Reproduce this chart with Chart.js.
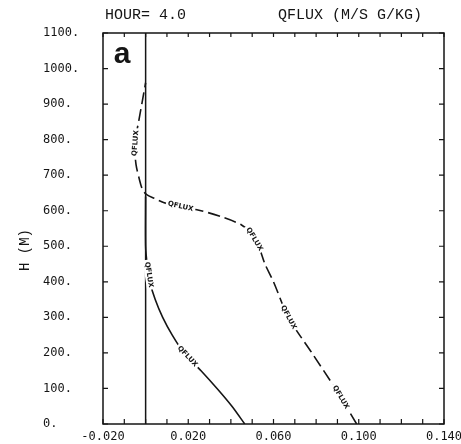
<!DOCTYPE html>
<html>
<head>
<meta charset="utf-8">
<script src="https://cdn.jsdelivr.net/npm/chart.js@4"></script>
<style>
  html, body { margin: 0; padding: 0; background: #fff; }
  #wrap { width: 461px; height: 444px; }
</style>
</head>
<body>
<div id="wrap"><canvas id="qflux"></canvas></div>
<script>
// heights (m) and flux values
const solidHeights = [0, 50, 100, 150, 200, 250, 300, 350, 400, 450, 500, 640];
const solidFlux = [0.0465, 0.0405, 0.0335, 0.026, 0.018, 0.0125, 0.008, 0.0045, 0.002, 0.0007, 0, 0];

const dashedHeights = [0, 100, 200, 300, 400, 450, 500, 540, 560, 580, 600, 620, 635, 645, 660, 690, 730, 770, 810, 860, 910, 960];
const dashedFlux = [0.099, 0.089, 0.078, 0.067, 0.060, 0.056, 0.053, 0.049, 0.045, 0.037, 0.026, 0.010, 0.004, 0.0005, -0.0015, -0.003, -0.0045, -0.005, -0.0045, -0.003, -0.0015, 0];

const zeroHeights = [0, 1100];
const zeroFlux = [0, 0];

// heights where the "QFLUX" contour label sits on each curve
const solidLabelHeights = [190, 420];
const dashedLabelHeights = [75, 300, 520, 612, 790];

const xLabelled = [-0.02, 0.02, 0.06, 0.10, 0.14];
const yTicks = [0, 100, 200, 300, 400, 500, 600, 700, 800, 900, 1000, 1100];

const toPoints = (xs, hs) => xs.map((v, i) => ({ x: v, y: hs[i] }));

function fluxAt(xs, hs, h) {
    for (let i = 0; i < hs.length - 1; i++) {
        if (h >= hs[i] && h <= hs[i + 1]) {
            const t = (h - hs[i]) / (hs[i + 1] - hs[i]);
            return xs[i] + t * (xs[i + 1] - xs[i]);
        }
    }
    return xs[xs.length - 1];
}

const ink = '#151515';
const monoFont = "'Liberation Mono', 'DejaVu Sans Mono', monospace";

const framePlugin = {
    id: 'frame',
    afterDatasetsDraw(chart) {
        const { ctx, chartArea: a, scales: { x, y } } = chart;
        ctx.save();

        // contour style labels on the curves
        const drawLabels = (xs, hs, list) => {
            list.forEach(h => {
                const px = x.getPixelForValue(fluxAt(xs, hs, h));
                const py = y.getPixelForValue(h);
                const x0 = x.getPixelForValue(fluxAt(xs, hs, h - 12));
                const y0 = y.getPixelForValue(h - 12);
                const x1 = x.getPixelForValue(fluxAt(xs, hs, h + 12));
                const y1 = y.getPixelForValue(h + 12);
                let ang = Math.atan2(y1 - y0, x1 - x0);
                if (ang > Math.PI / 2) ang -= Math.PI;
                if (ang < -Math.PI / 2) ang += Math.PI;
                ctx.save();
                ctx.translate(px, py);
                ctx.rotate(ang);
                ctx.font = "bold 7px 'DejaVu Sans'";
                const w = ctx.measureText('QFLUX').width;
                ctx.fillStyle = '#fff';
                ctx.fillRect(-w / 2 - 2, -4, w + 4, 8);
                ctx.fillStyle = ink;
                ctx.textAlign = 'center';
                ctx.textBaseline = 'middle';
                ctx.fillText('QFLUX', 0, 0);
                ctx.restore();
            });
        };
        drawLabels(solidFlux, solidHeights, solidLabelHeights);
        drawLabels(dashedFlux, dashedHeights, dashedLabelHeights);

        // box and inward ticks
        ctx.strokeStyle = ink;
        ctx.lineWidth = 1.5;
        ctx.strokeRect(a.left, a.top, a.right - a.left, a.bottom - a.top);
        ctx.lineWidth = 1.2;
        ctx.beginPath();
        x.ticks.forEach(t => {
            const px = x.getPixelForValue(t.value);
            ctx.moveTo(px, a.bottom);
            ctx.lineTo(px, a.bottom - 5);
            ctx.moveTo(px, a.top);
            ctx.lineTo(px, a.top + 4);
        });
        yTicks.forEach(v => {
            const py = y.getPixelForValue(v);
            ctx.moveTo(a.left, py);
            ctx.lineTo(a.left + 5, py);
            ctx.moveTo(a.right, py);
            ctx.lineTo(a.right - 5, py);
        });
        ctx.stroke();

        // panel letter
        ctx.fillStyle = ink;
        ctx.font = "bold 30px 'Liberation Sans', Arial, sans-serif";
        ctx.textAlign = 'center';
        ctx.textBaseline = 'middle';
        ctx.fillText('a', a.left + 19, a.top + 22);
        ctx.restore();
    },
    afterDraw(chart) {
        const { ctx } = chart;
        ctx.save();
        ctx.fillStyle = ink;
        ctx.font = '15px ' + monoFont;
        ctx.textBaseline = 'middle';
        ctx.textAlign = 'left';
        ctx.fillText('HOUR= 4.0', 105, 15);
        ctx.fillText('QFLUX (M/S G/KG)', 278, 15);

        ctx.translate(25, 250);
        ctx.rotate(-Math.PI / 2);
        ctx.textAlign = 'center';
        ctx.font = '14px ' + monoFont;
        ctx.fillText('H (M)', 0, 0);
        ctx.restore();
    }
};

const ctx = document.getElementById('qflux').getContext('2d');
new Chart(ctx, {
    type: 'scatter',
    data: {
        datasets: [
            {
                data: toPoints(zeroFlux, zeroHeights),
                showLine: true,
                borderColor: ink,
                borderWidth: 1.5,
                pointRadius: 0
            },
            {
                data: toPoints(solidFlux, solidHeights),
                showLine: true,
                borderColor: ink,
                borderWidth: 1.6,
                pointRadius: 0,
                tension: 0.3
            },
            {
                data: toPoints(dashedFlux, dashedHeights),
                showLine: true,
                borderColor: ink,
                borderWidth: 1.6,
                borderDash: [12, 5],
                pointRadius: 0,
                tension: 0.3
            }
        ]
    },
    options: {
        responsive: true,
        maintainAspectRatio: false,
        animation: false,
        layout: { padding: { left: 43, top: 33, right: 17, bottom: 0 } },
        plugins: {
            legend: { display: false },
            tooltip: { enabled: false }
        },
        scales: {
            x: {
                type: 'linear',
                min: -0.02,
                max: 0.14,
                grid: { display: false, drawTicks: false },
                border: { display: false },
                afterFit: scale => {
                    scale.height = 20;
                    scale.paddingLeft = 0;
                    scale.paddingRight = 0;
                },
                ticks: {
                    stepSize: 0.01,
                    autoSkip: false,
                    maxRotation: 0,
                    padding: 6,
                    color: ink,
                    font: { family: "'DejaVu Sans Mono', monospace", size: 12 },
                    callback: value => {
                        const hit = xLabelled.some(v => Math.abs(v - value) < 1e-6);
                        if (!hit) return '';
                        return (value < 0 ? '-' : '') + Math.abs(value).toFixed(3);
                    }
                }
            },
            y: {
                type: 'linear',
                min: 0,
                max: 1100,
                grid: { display: false, drawTicks: false },
                border: { display: false },
                afterFit: scale => {
                    scale.width = 60;
                    scale.paddingTop = 0;
                    scale.paddingBottom = 0;
                },
                ticks: {
                    stepSize: 100,
                    crossAlign: 'far',
                    color: ink,
                    font: { family: "'DejaVu Sans Mono', monospace", size: 12 },
                    callback: value => value + '.'
                }
            }
        }
    },
    plugins: [framePlugin]
});
</script>
</body>
</html>
